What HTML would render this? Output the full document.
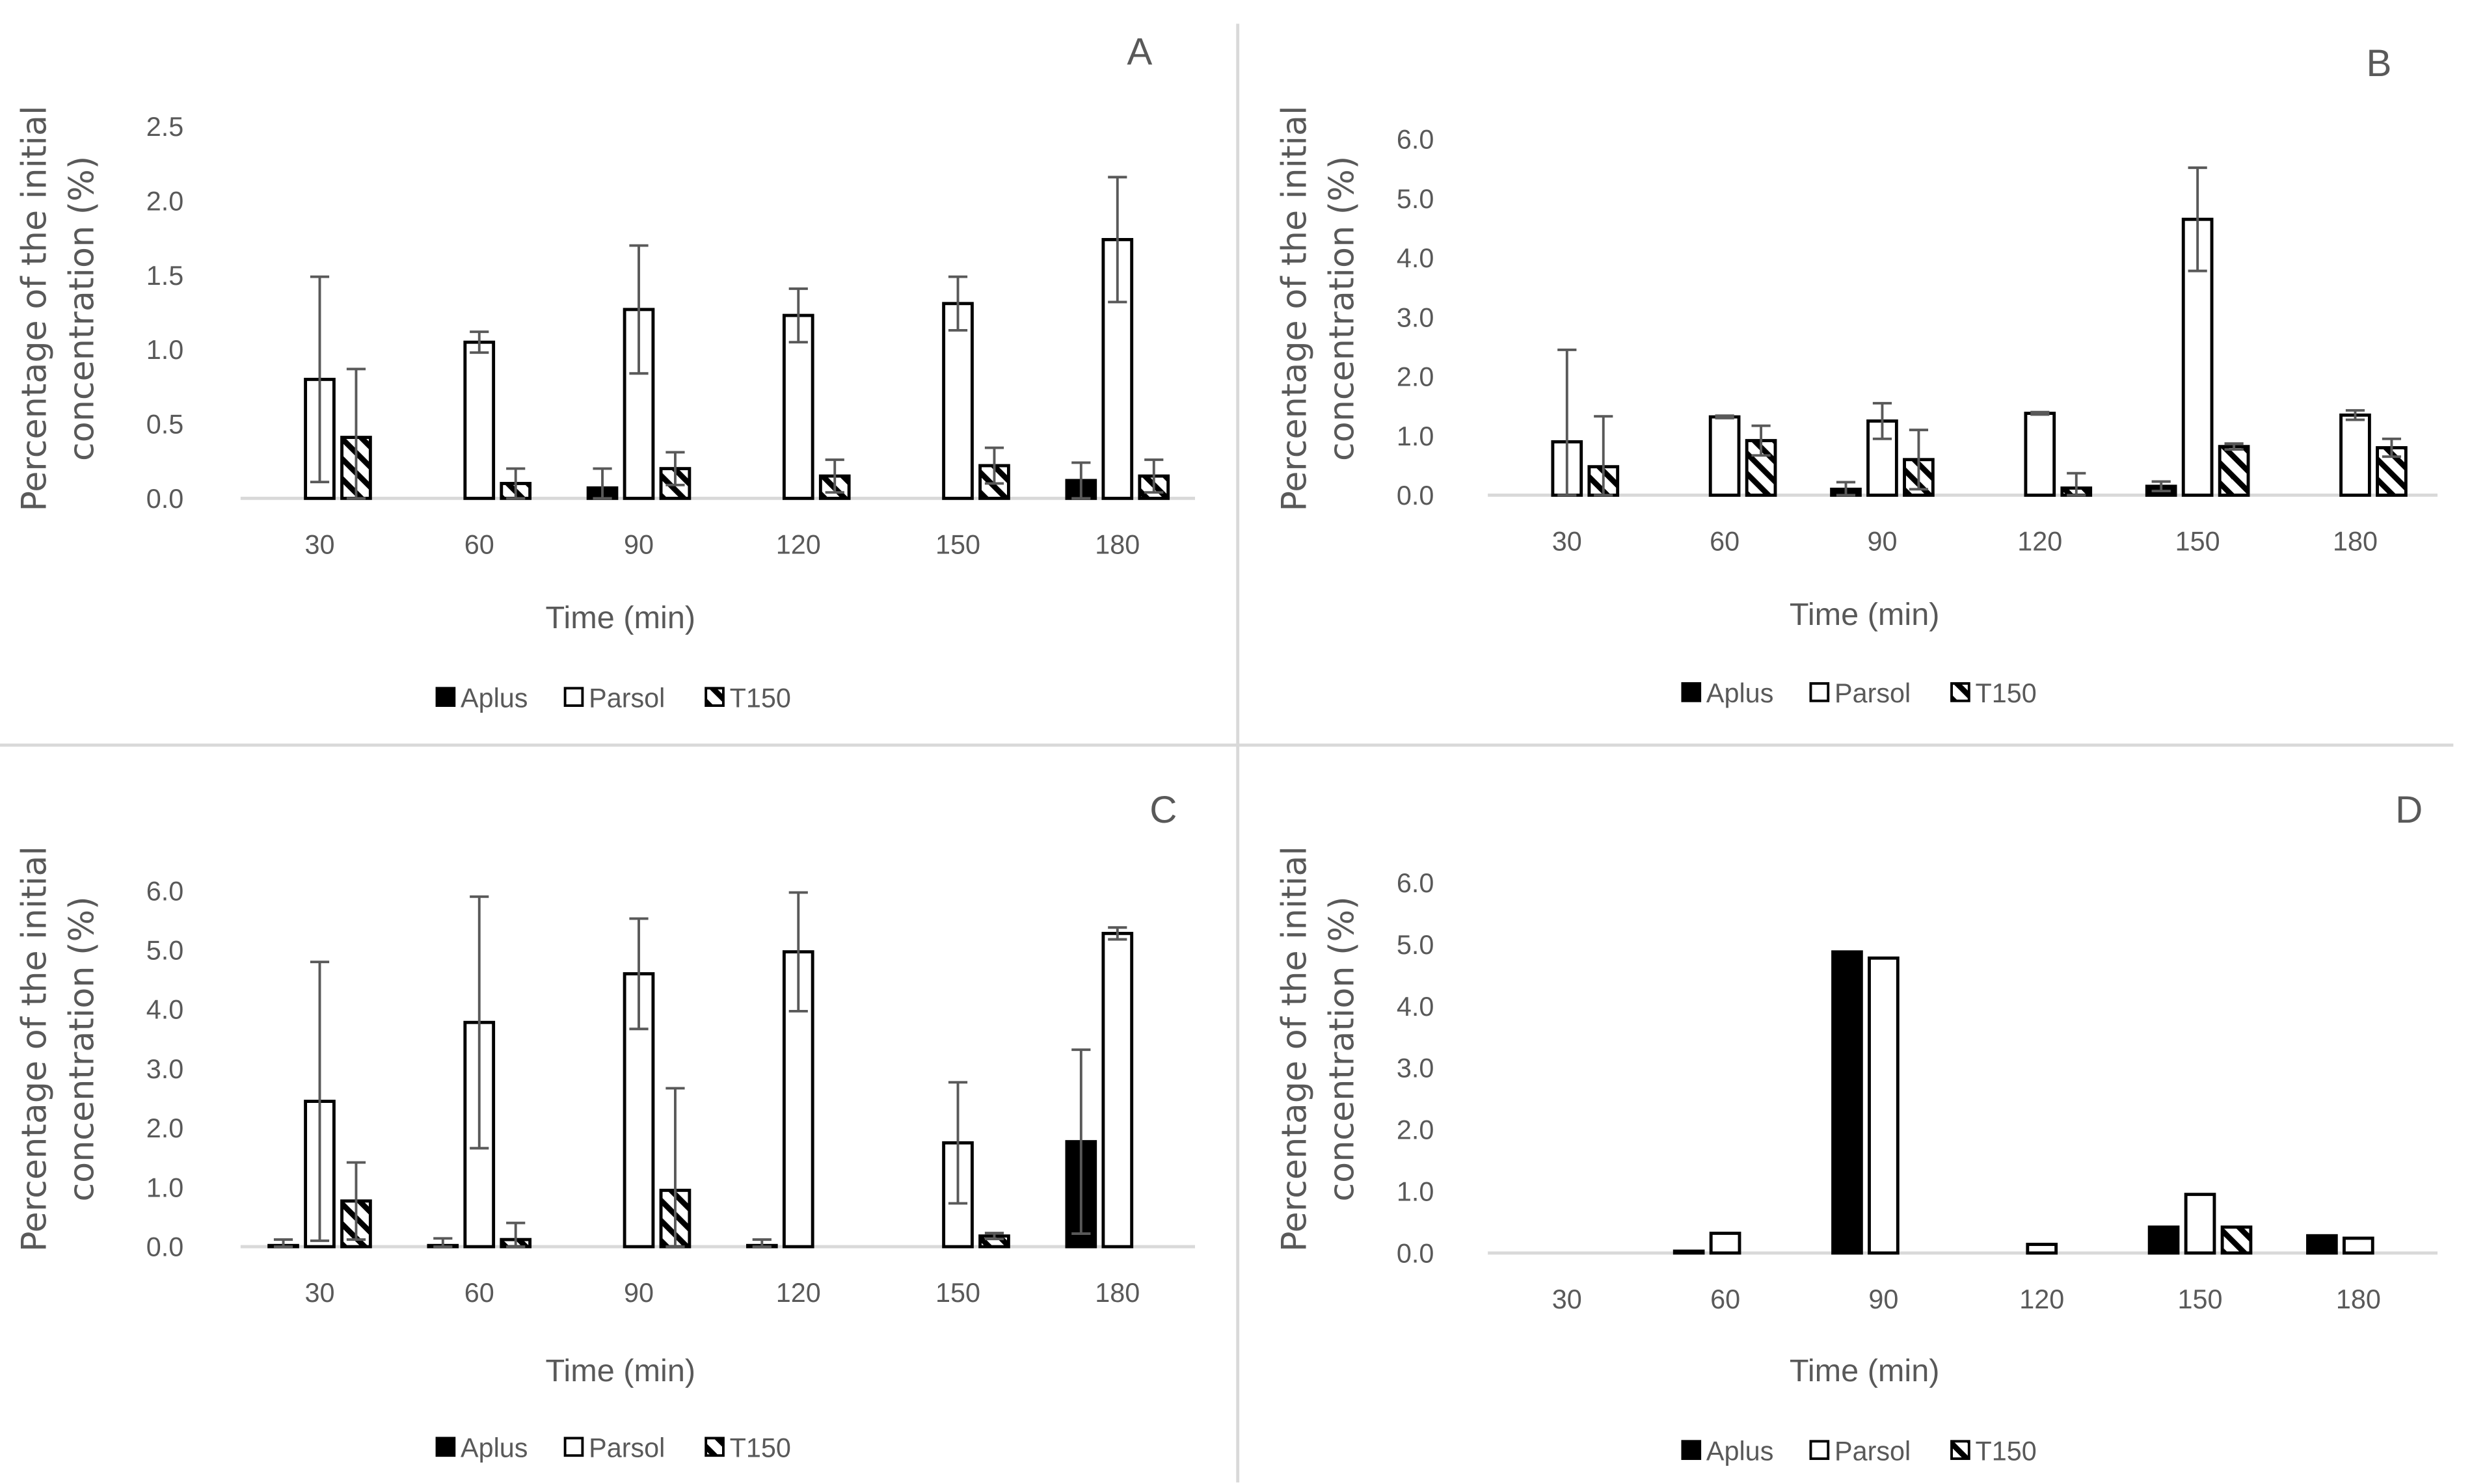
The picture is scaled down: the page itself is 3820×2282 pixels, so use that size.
<!DOCTYPE html>
<html><head><meta charset="utf-8">
<style>
html,body{margin:0;padding:0;background:#fff;}
svg{display:block;}
text{font-family:"Liberation Sans",sans-serif;fill:#595959;}
.ytitle{font-family:"DejaVu Sans",sans-serif;}
</style></head>
<body>
<svg id="fig" width="3820" height="2282" viewBox="0 0 1570 938" preserveAspectRatio="none" xmlns="http://www.w3.org/2000/svg">
<defs>
<pattern id="hatch" patternUnits="userSpaceOnUse" width="9" height="9" patternTransform="rotate(-45)">
<rect width="9" height="9" fill="#fff"/>
<rect x="0" y="0" width="3.5" height="9" fill="#000"/>
</pattern>
</defs>
<line x1="782" y1="15" x2="782" y2="937" stroke="#d9d9d9" stroke-width="2"/>
<line x1="0" y1="471" x2="1550" y2="471" stroke="#d9d9d9" stroke-width="2"/>
<g id="panels"></g>
</svg>
<script>
const categories = ['30','60','90','120','150','180'];
const seriesNames = ['Aplus','Parsol','T150'];

const aAplus = [0,0,0.07,0,0,0.12];
const aAplusErr = [0,0,0.13,0,0,0.12];
const aParsol = [0.8,1.05,1.27,1.23,1.31,1.74];
const aParsolErr = [0.69,0.07,0.43,0.18,0.18,0.42];
const aT150 = [0.41,0.1,0.2,0.15,0.22,0.15];
const aT150Err = [0.46,0.1,0.11,0.11,0.12,0.11];
const aTicks = ['0.0','0.5','1.0','1.5','2.0','2.5'];

const bAplus = [0,0,0.1,0,0.15,0];
const bAplusErr = [0,0,0.12,0,0.08,0];
const bParsol = [0.9,1.32,1.25,1.38,4.65,1.35];
const bParsolErr = [1.55,0.02,0.3,0.02,0.87,0.08];
const bT150 = [0.48,0.92,0.6,0.12,0.82,0.8];
const bT150Err = [0.85,0.25,0.5,0.25,0.05,0.15];

const cAplus = [0.02,0.02,0,0.02,0,1.77];
const cAplusErr = [0.1,0.12,0,0.1,0.07,1.55];
const cParsol = [2.45,3.78,4.6,4.97,1.75,5.28];
const cParsolErr = [2.35,2.12,0.93,1.0,1.02,0.1];
const cT150 = [0.77,0.12,0.95,0,0.18,0];
const cT150Err = [0.65,0.28,1.72,0,0.05,0];

const dAplus = [0,0.03,4.88,0,0.42,0.28];
const dParsol = [0,0.32,4.78,0.14,0.95,0.24];
const dT150 = [0,0,0,0,0.42,0];

const sixTicks = ['0.0','1.0','2.0','3.0','4.0','5.0','6.0'];

const NS='http://www.w3.org/2000/svg';
const root=document.getElementById('panels');
function mk(tag,attrs,parent){const e=document.createElementNS(NS,tag);for(const k in attrs)e.setAttribute(k,attrs[k]);(parent||root).appendChild(e);return e;}

const panels=[
 {id:'a',label:'A',lx:720,ly:41,x0:152,x1:755,c0:202,step:100.8,yTop:80,yBot:315,max:2.5,ticks:aTicks,tickX:116,ytx:22,ytc:195,xt:392,xty:397,lgy:446,lgx:276,
  vals:[aAplus,aParsol,aT150],errs:[aAplusErr,aParsolErr,aT150Err]},
 {id:'b',label:'B',lx:1503,ly:48,x0:940,x1:1540,c0:990,step:99.6,yTop:88,yBot:313,max:6,ticks:sixTicks,tickX:906,ytx:818,ytc:195,xt:1178,xty:395,lgy:443,lgx:1063,
  vals:[bAplus,bParsol,bT150],errs:[bAplusErr,bParsolErr,bT150Err]},
 {id:'c',label:'C',lx:735,ly:520,x0:152,x1:755,c0:202,step:100.8,yTop:563,yBot:788,max:6,ticks:sixTicks,tickX:116,ytx:22,ytc:663,xt:392,xty:873,lgy:920,lgx:276,
  vals:[cAplus,cParsol,cT150],errs:[cAplusErr,cParsolErr,cT150Err]},
 {id:'d',label:'D',lx:1522,ly:520,x0:940,x1:1540,c0:990,step:100,yTop:558,yBot:792,max:6,ticks:sixTicks,tickX:906,ytx:818,ytc:663,xt:1178,xty:873,lgy:922,lgx:1063,
  vals:[dAplus,dParsol,dT150],errs:null}
];
const fills=['#000','#fff','url(#hatch)'];
const offs=[-23,0,23];
const bw=18;

panels.forEach(p=>{
 const g=mk('g',{});
 
 
 const yS=v=>p.yBot-(v/p.max)*(p.yBot-p.yTop);
 const xS=i=>p.c0+i*p.step;
 const lab=mk('text',{x:p.lx,y:p.ly,'font-size':24,'text-anchor':'middle'},g);lab.textContent=p.label;
 
 p.ticks.forEach((t,i)=>{
  const v=i*p.max/(p.ticks.length-1);
  const e=mk('text',{x:p.tickX,y:yS(v)+6,'font-size':17,'text-anchor':'end'},g);e.textContent=t;
  
 });
 const ax=mk('line',{x1:p.x0,x2:p.x1,y1:p.yBot,y2:p.yBot,stroke:'#d9d9d9','stroke-width':2},g);
 
 categories.forEach((c,i)=>{
  const e=mk('text',{x:xS(i),y:p.yBot+35,'font-size':17,'text-anchor':'middle'},g);e.textContent=c;
  
 });
 p.vals.forEach((arr,s)=>{
  arr.forEach((v,i)=>{
   if(v<=0)return;
   const x=xS(i)+offs[s]-bw/2, y=yS(v);
   const r=mk('rect',{x:x,y:y,width:bw,height:p.yBot-y,fill:fills[s],stroke:'#000','stroke-width':2},g);
   
   
   if(p.errs){const er=p.errs[s][i];if(er>0){
    const cx=xS(i)+offs[s];
    const lo=Math.max(0,v-er),hi=v+er;
    const eb=mk('path',{d:`M${cx},${yS(lo)}V${yS(hi)}M${cx-6},${yS(hi)}H${cx+6}M${cx-6},${yS(lo)}H${cx+6}`,stroke:'#595959','stroke-width':1.6,fill:'none'},g);
    
   }}
  });
 });
 const yt=mk('text',{'font-size':21.5,'text-anchor':'middle',class:'ytitle',transform:`translate(${p.ytx+7},${p.ytc}) rotate(-90)`},g);
 
 const t1=mk('tspan',{x:0,dy:0},yt);t1.textContent='Percentage of the initial';
 const t2=mk('tspan',{x:0,dy:30},yt);t2.textContent='concentration (%)';
 const xt=mk('text',{x:p.xt,y:p.xty,'font-size':20,'text-anchor':'middle'},g);xt.textContent='Time (min)';
 
 const lx=[p.lgx,p.lgx+81,p.lgx+170];
 seriesNames.forEach((n,s)=>{
  const lg=mk('g',{},g);
  
  
  mk('rect',{x:lx[s],y:p.lgy-11,width:11,height:11,fill:fills[s],stroke:'#000','stroke-width':1.6},lg);
  const t=mk('text',{x:lx[s]+15,y:p.lgy+1,'font-size':17},lg);t.textContent=n;
 });
});
</script>
</body></html>
